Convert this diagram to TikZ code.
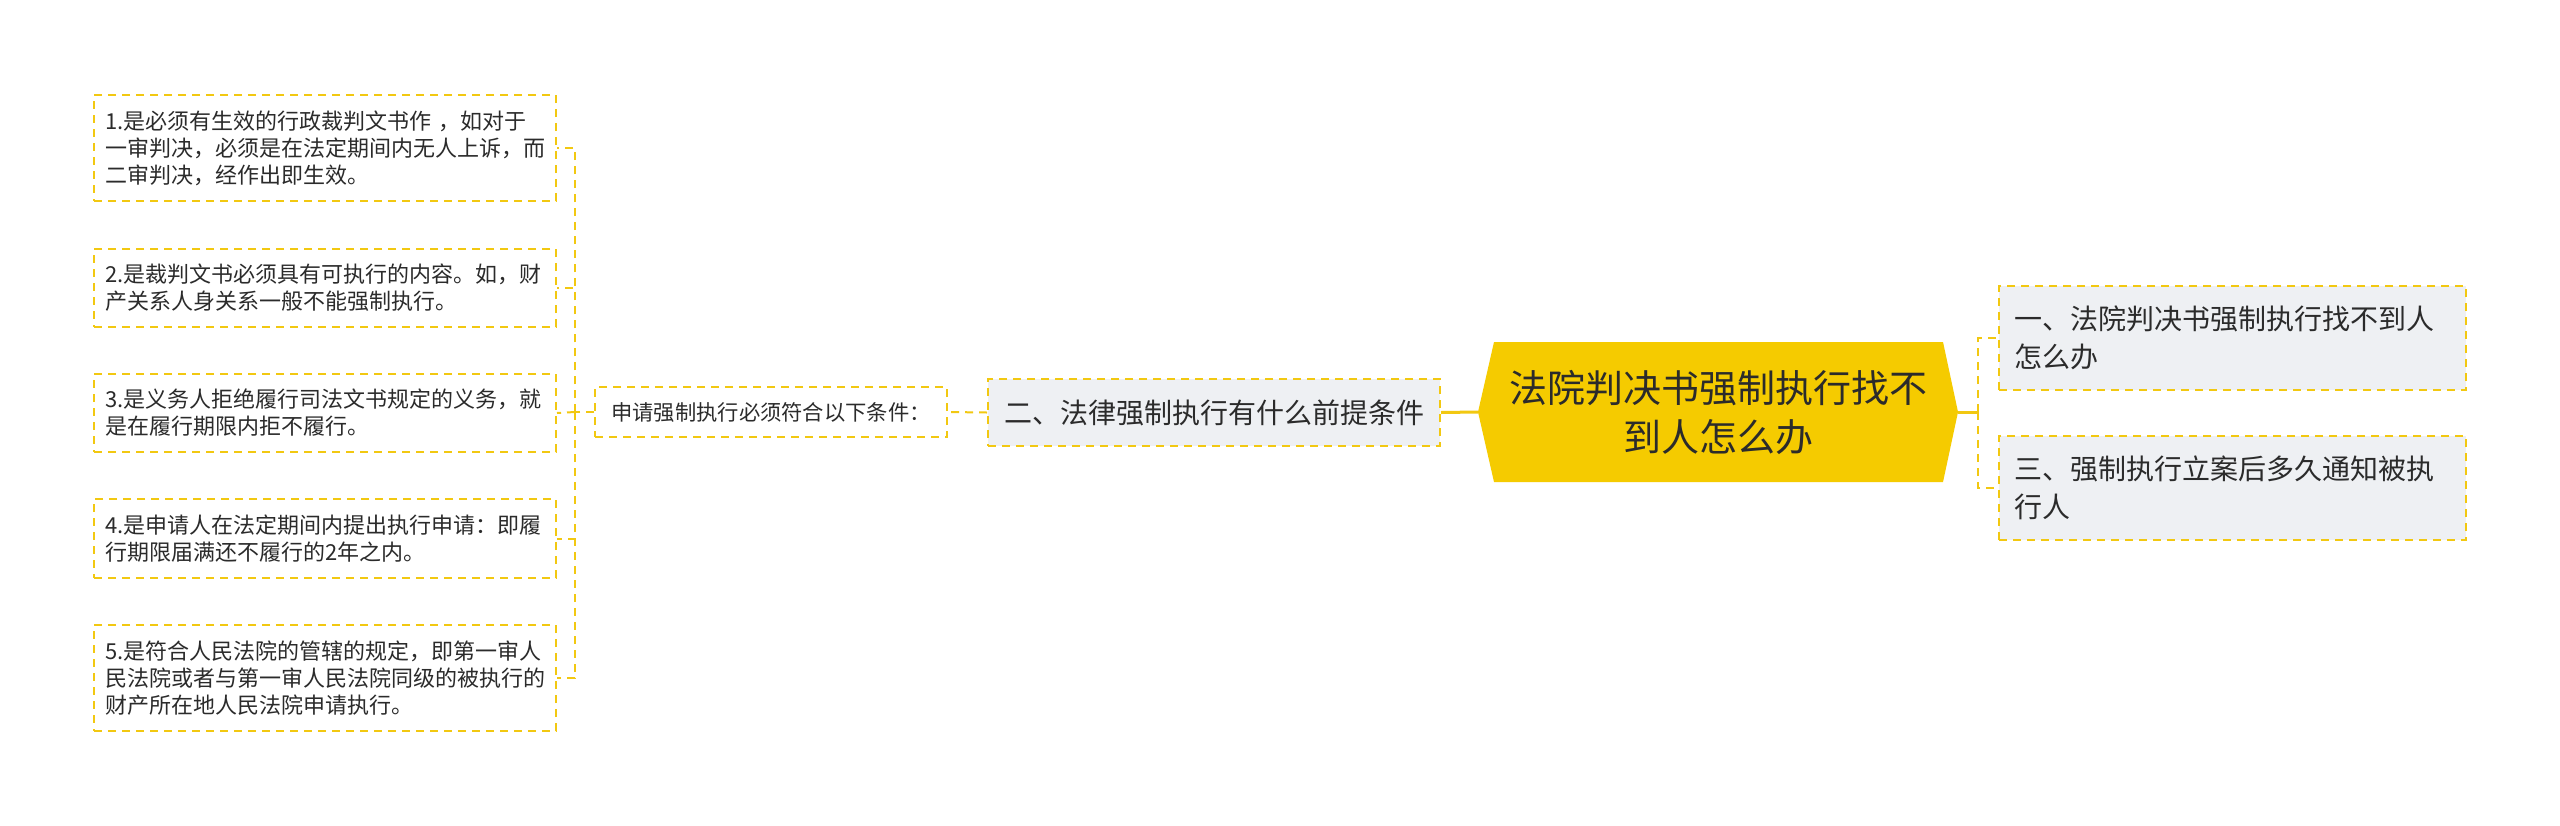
\documentclass[tikz,border=0pt]{standalone}
\usepackage{fontspec}
\setmainfont{Noto Sans CJK SC}
\definecolor{ylw}{HTML}{F2C811}
\definecolor{hexfill}{HTML}{F5CB00}
\definecolor{gry}{HTML}{EEF0F3}
\definecolor{txt}{HTML}{2B2B2B}
\begin{document}
\begin{tikzpicture}[x=1pt,y=-1pt,
  dashln/.style={draw=ylw, line width=2pt, dash pattern=on 8pt off 6pt},
  solidln/.style={draw=ylw, line width=3pt},
  leaf/.style={dashln, fill=white, text=txt, align=left, text width=440pt, inner xsep=11pt, inner ysep=0pt, anchor=north west, font=\fontsize{22}{27}\selectfont},
  midbox/.style={dashln, fill=white, text=txt, inner xsep=0pt, inner ysep=0pt, minimum width=352pt, minimum height=50pt, font=\fontsize{21.3}{26}\selectfont},
  topic/.style={dashln, fill=gry, text=txt, inner ysep=0pt, font=\fontsize{28}{37.5}\selectfont},
  rootlbl/.style={text=txt, align=center, font=\fontsize{38}{49}\selectfont}]
\useasboundingbox (0,0) rectangle (2560,825);
\fill[white] (0,0) rectangle (2560,825);
% left leaves
\node[leaf, minimum height=106pt] (b1) at (93,94) {1.是必须有生效的行政裁判文书作 ，如对于\\一审判决，必须是在法定期间内无人上诉，而\\二审判决，经作出即生效。};
\node[leaf, minimum height=78pt] (b2) at (93,248) {2.是裁判文书必须具有可执行的内容。如，财\\产关系人身关系一般不能强制执行。};
\node[leaf, minimum height=78pt] (b3) at (93,373) {3.是义务人拒绝履行司法文书规定的义务，就\\是在履行期限内拒不履行。};
\node[leaf, minimum height=79pt] (b4) at (93,498) {4.是申请人在法定期间内提出执行申请：即履\\行期限届满还不履行的2年之内。};
\node[leaf, minimum height=106pt] (b5) at (93,624) {5.是符合人民法院的管辖的规定，即第一审人\\民法院或者与第一审人民法院同级的被执行的\\财产所在地人民法院申请执行。};
% middle
\node[midbox] (req) at (771,412) {申请强制执行必须符合以下条件：};
\node[topic, minimum width=452pt, minimum height=67pt, inner xsep=0pt] (two) at (1214,412.5) {二、法律强制执行有什么前提条件};
% root hexagon
\fill[hexfill] (1478,412) -- (1494,342) -- (1943,342) -- (1958,412) -- (1943,482) -- (1494,482) -- cycle;
\coordinate (rw) at (1478,412);
\coordinate (re) at (1958,412);
\node[rootlbl] (root) at (1718,412) {法院判决书强制执行找不\\到人怎么办};
% right topics
\node[topic, align=left, text width=437pt, inner xsep=15pt, minimum height=104pt, anchor=north west] (one) at (1998,285) {一、法院判决书强制执行找不到人\\怎么办};
\node[topic, align=left, text width=437pt, inner xsep=15pt, minimum height=104pt, anchor=north west] (three) at (1998,435) {三、强制执行立案后多久通知被执\\行人};
% connectors
\draw[solidln] (rw) -- (two.east);
\draw[dashln] (two.west) -- (req.east);
\coordinate (trunk) at (575,412);
\draw[dashln] (req.west) -- (trunk);
\draw[dashln] (trunk) |- (b1.east);
\draw[dashln] (trunk) |- (b2.east);
\draw[dashln] (trunk) -- (b3.east);
\draw[dashln] (trunk) |- (b4.east);
\draw[dashln] (trunk) |- (b5.east);
\coordinate (rb) at (1978,412);
\draw[solidln] (re) -- (rb);
\draw[dashln] (rb) |- (one.west);
\draw[dashln] (rb) |- (three.west);
\end{tikzpicture}
\end{document}
